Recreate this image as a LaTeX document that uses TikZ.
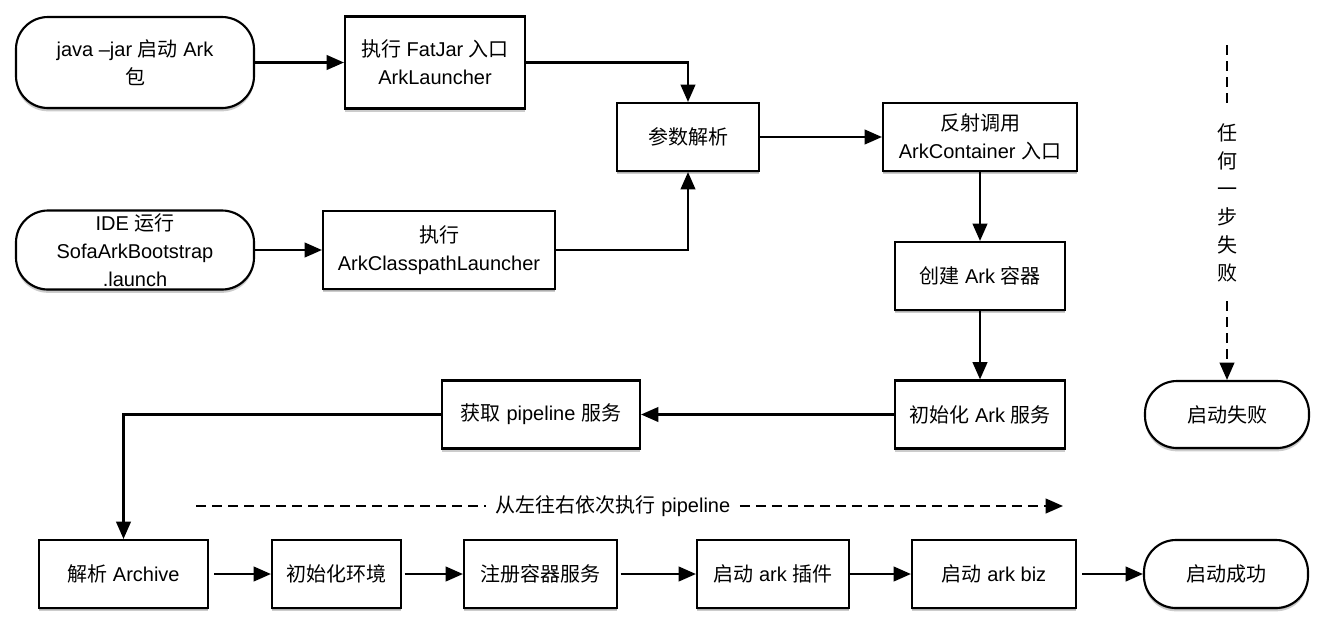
\documentclass[tikz,border=0pt]{standalone}
\usepackage{fontspec}
\setmainfont{Liberation Sans}
\newfontfamily\zhfont{Noto Sans CJK SC}
\newcommand\zh[1]{{\zhfont #1}}
\usetikzlibrary{arrows.meta,shadows}
\tikzset{
  basebox/.style={draw, line width=1.6pt, fill=white, align=center, inner sep=0pt,
    font=\fontsize{15}{21}\selectfont,
    drop shadow={shadow xshift=0pt, shadow yshift=-2.5pt, opacity=0.2, fill=black},
    drop shadow={shadow xshift=0pt, shadow yshift=-1.2pt, opacity=0.15, fill=black}},
  procbox/.style={basebox},
  termbox/.style={basebox, rounded corners=24pt},
  conn/.style={line width=1.6pt, -{Triangle[length=13pt,width=11pt]}},
  dline/.style={line width=1.5pt, dash pattern=on 7.5pt off 4.5pt},
  dconn/.style={conn, line width=1.5pt, dash pattern=on 7.5pt off 4.5pt},
  lbl/.style={align=center, font=\fontsize{15}{21}\selectfont},
}
\begin{document}
\begin{tikzpicture}[x=0.75pt,y=-0.75pt]
\fill[white] (0,0) rectangle (1328,626);
\useasboundingbox (0,0) rectangle (1328,626);

% top area
\node[termbox, minimum width=178.5pt, minimum height=68.25pt] (java) at (135,62.5)
  {java –jar \zh{启动} Ark\\\zh{包}};
\node[procbox, minimum width=135pt, minimum height=69pt] (fatjar) at (435,62.5)
  {\zh{执行} FatJar \zh{入口}\\ArkLauncher};
\node[termbox, minimum width=178.5pt, minimum height=59.25pt] (ide) at (135,250)
  {IDE \zh{运行}\\SofaArkBootstrap\\.launch};
\node[procbox, minimum width=174pt, minimum height=58.5pt] (cp) at (439,250)
  {\zh{执行}\\ArkClasspathLauncher};
\node[procbox, minimum width=106.5pt, minimum height=51pt] (parse) at (688,137)
  {\zh{参数解析}};
\node[procbox, minimum width=145.5pt, minimum height=51pt] (reflect) at (980,137)
  {\zh{反射调用}\\ArkContainer \zh{入口}};
\node[procbox, minimum width=127.5pt, minimum height=51pt] (create) at (980,276)
  {\zh{创建} Ark \zh{容器}};
\node[procbox, minimum width=127.5pt, minimum height=51pt] (initark) at (980,414.5)
  {\zh{初始化} Ark \zh{服务}};
\node[procbox, minimum width=148.5pt, minimum height=51pt] (getpipe) at (541,414.5)
  {\zh{获取} pipeline \zh{服务}};
\node[termbox, minimum width=123pt, minimum height=50.25pt] (fail) at (1227,414.5)
  {\zh{启动失败}};

% bottom row
\node[procbox, minimum width=126.75pt, minimum height=51pt] (archive) at (123.5,574)
  {\zh{解析} Archive};
\node[procbox, minimum width=96.75pt, minimum height=51pt] (env) at (336.5,574)
  {\zh{初始化环境}};
\node[procbox, minimum width=114.75pt, minimum height=51pt] (reg) at (540.5,574)
  {\zh{注册容器服务}};
\node[procbox, minimum width=114pt, minimum height=51pt] (plugin) at (773,574)
  {\zh{启动} ark \zh{插件}};
\node[procbox, minimum width=123pt, minimum height=51pt] (biz) at (994,574)
  {\zh{启动} ark biz};
\node[termbox, minimum width=123pt, minimum height=51pt] (ok) at (1226,574)
  {\zh{启动成功}};

% labels
\node[lbl, inner xsep=7pt, inner ysep=0pt] (plabel) at (613,506)
  {\zh{从左往右依次执行} pipeline};
\node[lbl, inner xsep=0pt, inner ysep=14pt] (vlabel) at (1227,203)
  {\zh{任}\\\zh{何}\\\zh{一}\\\zh{步}\\\zh{失}\\\zh{败}};
\coordinate (dl) at (196,506);
\coordinate (dr) at (1063,506);
\coordinate (vtop) at (1227,45);

% connectors
\draw[conn] (java) -- (fatjar);
\draw[conn] (fatjar.east) -| (parse.north);
\draw[conn] (ide) -- (cp);
\draw[conn] (cp.east) -| (parse.south);
\draw[conn] (parse) -- (reflect);
\draw[conn] (reflect) -- (create);
\draw[conn] (create) -- (initark);
\draw[conn] (initark) -- (getpipe);
\draw[conn] (getpipe.west) -| (archive.north);
\draw[conn, shorten <=4pt] (archive) -- (env);
\draw[conn, shorten <=2pt] (env) -- (reg);
\draw[conn, shorten <=2pt] (reg) -- (plugin);
\draw[conn] (plugin) -- (biz);
\draw[conn, shorten <=4pt] (biz) -- (ok);

\draw[dline] (dl) -- (plabel.west);
\draw[dconn] (plabel.east) -- (dr);
\draw[dline] (vtop) -- (vlabel.north);
\draw[dconn] (vlabel.south) -- (fail.north);
\end{tikzpicture}
\end{document}
